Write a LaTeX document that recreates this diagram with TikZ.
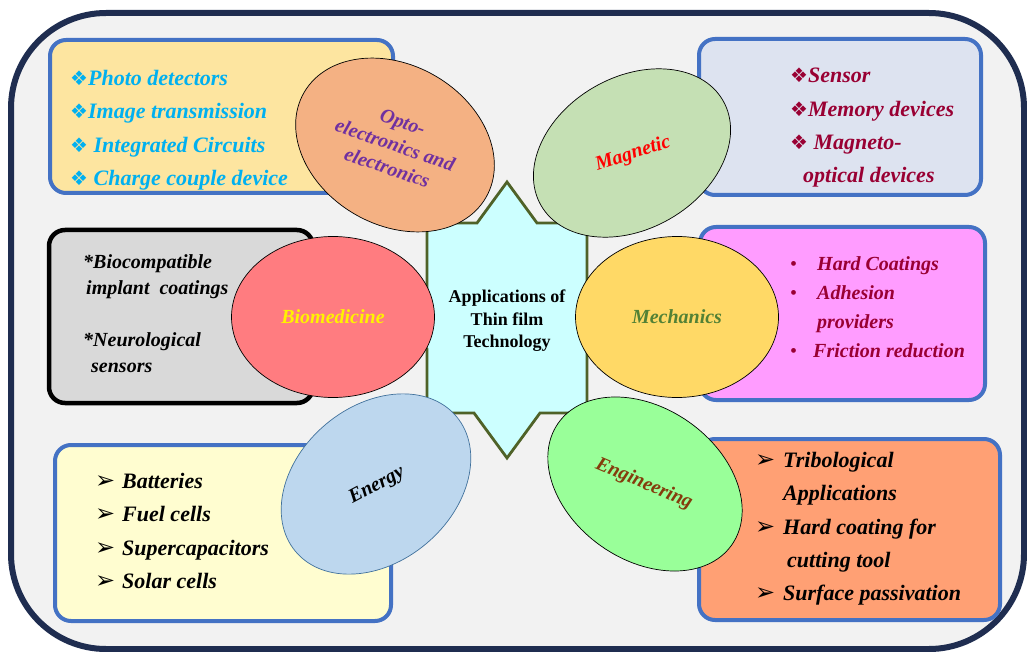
\documentclass[tikz,border=0pt]{standalone}
\usepackage{fontspec}
\setmainfont{Liberation Serif}
\newfontfamily\dingfont{DejaVu Sans}
\usetikzlibrary{shapes.geometric}

\definecolor{frameblue}{HTML}{1F2D50}
\definecolor{panelgray}{HTML}{F2F2F2}
\definecolor{boxblue}{HTML}{4472C4}
\definecolor{stargreen}{HTML}{4F6228}
\definecolor{starfill}{HTML}{CCFFFF}
\definecolor{crimson}{HTML}{990033}

\newcommand{\diamondmark}{{\dingfont\fontsize{20}{20}\selectfont ❖}}
\newcommand{\arrowmark}{{\dingfont\fontsize{24}{24}\selectfont ➢}}

\tikzset{
  infobox/.style={draw=boxblue, line width=4pt, rounded corners=16pt, inner sep=0pt},
  petal/.style={ellipse, draw=black, line width=0.7pt, inner sep=0pt},
  petaltext/.style={align=center, inner sep=0pt, font=\fontsize{20}{24}\selectfont\bfseries\itshape},
  listtext/.style={anchor=north west, inner sep=0pt, align=left, font=\fontsize{22}{33.3}\selectfont\bfseries\itshape}
}

\begin{document}
\begin{tikzpicture}[x=1pt, y=-1pt]
    \useasboundingbox (0,0) rectangle (1027,652);

    % panel
    \draw[line width=6pt, draw=frameblue, fill=panelgray, rounded corners=95pt] (11,13) rectangle (1024,649);

    % eight pointed star in the middle
    \draw[draw=stargreen, line width=2.8pt, fill=starfill, line join=miter]
        (507,182) -- (537,223) -- (587,223) -- (587,291) -- (608,320) -- (587,349)
        -- (587,413) -- (540,413) -- (507,458) -- (474,413) -- (427,413) -- (427,349)
        -- (406,320) -- (427,291) -- (427,223) -- (477,223) -- cycle;
    \node[align=center, inner sep=0pt, font=\fontsize{18}{22.5}\selectfont\bfseries] (hub) at (507,321)
        {Applications of\\Thin film\\Technology};

    % boxes
    \node[infobox, fill={rgb,255:red,253;green,229;blue,160}, minimum width=343pt, minimum height=153pt] (optobox) at (221.5,116.5) {};
    \node[infobox, fill={rgb,255:red,221;green,227;blue,240}, minimum width=282pt, minimum height=156pt] (magbox) at (840,117) {};
    \node[infobox, draw=black, line width=4.5pt, fill={rgb,255:red,217;green,217;blue,217}, minimum width=264pt, minimum height=173pt] (biobox) at (181,316.5) {};
    \node[infobox, fill={rgb,255:red,255;green,156;blue,255}, minimum width=285pt, minimum height=173pt] (mechbox) at (842.5,313.5) {};
    \node[infobox, fill={rgb,255:red,255;green,253;blue,208}, minimum width=336pt, minimum height=176pt] (energybox) at (223,533) {};
    \node[infobox, fill={rgb,255:red,255;green,160;blue,116}, minimum width=301pt, minimum height=181pt] (engbox) at (849.5,529.5) {};

    % lists
    \node[listtext, text={rgb,255:red,0;green,176;blue,240}] (optolist) at (70,70)
        {\diamondmark Photo detectors\\ \diamondmark Image transmission\\ \diamondmark\ Integrated Circuits\\ \diamondmark\ Charge couple device};
    \node[listtext, text=crimson] (maglist) at (790,68)
        {\diamondmark Sensor\\ \diamondmark Memory devices\\ \diamondmark\ Magneto-\\ \hspace*{13pt}optical devices};
    \node[listtext, font=\fontsize{20}{26}\selectfont\bfseries\itshape] (biolist) at (83,254)
        {*Biocompatible\\ \hspace*{3pt}implant\ \ coatings\\[26pt] *Neurological\\ \hspace*{8pt}sensors};
    \node[listtext, text=crimson, font=\fontsize{20}{29.3}\selectfont\bfseries\itshape] (mechlist) at (790,256)
        {\makebox[27pt][l]{\upshape\mdseries\textbullet}Hard Coatings\\
         \makebox[27pt][l]{\upshape\mdseries\textbullet}Adhesion\\
         \hspace*{27pt}providers\\
         \makebox[23pt][l]{\upshape\mdseries\textbullet}Friction reduction};
    \node[listtext] (energylist) at (95,473)
        {\makebox[27pt][l]{\arrowmark}Batteries\\ \makebox[27pt][l]{\arrowmark}Fuel cells\\
         \makebox[27pt][l]{\arrowmark}Supercapacitors\\ \makebox[27pt][l]{\arrowmark}Solar cells};
    \node[listtext] (englist) at (755,452)
        {\makebox[28pt][l]{\arrowmark}Tribological\\ \hspace*{28pt}Applications\\
         \makebox[28pt][l]{\arrowmark}Hard coating for\\ \hspace*{32pt}cutting tool\\
         \makebox[28pt][l]{\arrowmark}Surface passivation};

    % ellipses around the star
    \node[petal, fill={rgb,255:red,244;green,177;blue,131}, minimum width=210pt, minimum height=160pt, rotate=-30] (opto) at (395,145) {};
    \node[petal, fill={rgb,255:red,197;green,224;blue,180}, minimum width=210pt, minimum height=152pt, rotate=30] (magnetic) at (632,153) {};
    \node[petal, fill={rgb,255:red,255;green,124;blue,128}, minimum width=203pt, minimum height=161pt] (bio) at (333,317) {};
    \node[petal, fill={rgb,255:red,255;green,217;blue,102}, minimum width=203pt, minimum height=161pt] (mech) at (677,317) {};
    \node[petal, draw={rgb,255:red,65;green,113;blue,156}, fill={rgb,255:red,189;green,215;blue,238}, minimum width=210pt, minimum height=156pt, rotate=40] (energy) at (376,484) {};
    \node[petal, fill={rgb,255:red,153;green,255;blue,153}, minimum width=212pt, minimum height=152pt, rotate=-35] (eng) at (645,484) {};

    \node[petaltext, text={rgb,255:red,112;green,48;blue,160}, rotate=-19] (optolabel) at (395,145) {Opto-\\electronics and\\electronics};
    \node[petaltext, text=red, rotate=18] (maglabel) at (633,154) {Magnetic};
    \node[petaltext, text=yellow] (biolabel) at (bio) {Biomedicine};
    \node[petaltext, text={rgb,255:red,83;green,129;blue,53}] (mechlabel) at (mech) {Mechanics};
    \node[petaltext, rotate=28] (energylabel) at (377,486) {Energy};
    \node[petaltext, text={rgb,255:red,132;green,60;blue,12}, rotate=-23] (englabel) at (644,484) {Engineering};
\end{tikzpicture}
\end{document}
